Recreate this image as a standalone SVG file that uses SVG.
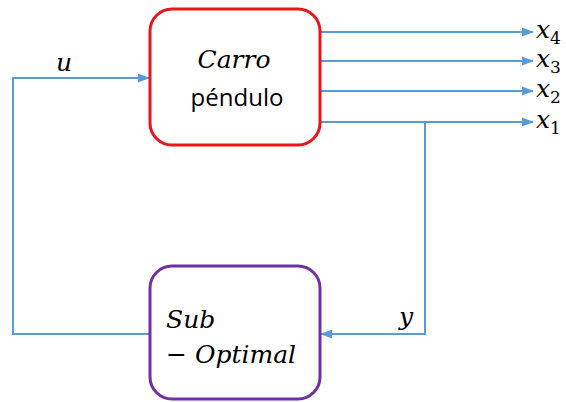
<svg xmlns="http://www.w3.org/2000/svg" width="566" height="402" viewBox="0 0 566 402">
<style>
.conn{fill:none;stroke:#5B9BD5;stroke-width:2}
.math{font-family:"DejaVu Serif","Liberation Serif",serif;font-style:italic;fill:#000}
.sub{font-family:"DejaVu Serif","Liberation Serif",serif;font-style:normal;fill:#000}
.txt{font-family:"Open Sans","Liberation Sans",sans-serif;fill:#000}
</style>
<defs>
<marker id="arr" markerWidth="12" markerHeight="10" refX="11" refY="5" orient="auto" markerUnits="userSpaceOnUse">
<path d="M0,0.5 L12,5 L0,9.5 Z" fill="#5B9BD5"/>
</marker>
</defs>
<rect width="566" height="402" fill="#fff"/>
<g id="connectors">
<path class="conn" d="M320,32 H533" marker-end="url(#arr)"/>
<path class="conn" d="M320,61 H533" marker-end="url(#arr)"/>
<path class="conn" d="M320,91 H533" marker-end="url(#arr)"/>
<path class="conn" d="M320,122 H533" marker-end="url(#arr)"/>
<path class="conn" d="M425,122 V334 H321" marker-end="url(#arr)"/>
<path class="conn" d="M150,334 H13 V78 H149" marker-end="url(#arr)"/>
</g>
<g id="carro">
<rect x="150" y="9" width="170" height="136" rx="22" fill="#fff" stroke="#E8151B" stroke-width="3"/>
<text class="math" x="234" y="68" font-size="25" text-anchor="middle">Carro</text>
<text class="txt" x="237" y="106" font-size="24" text-anchor="middle">péndulo</text>
</g>
<g id="suboptimal">
<rect x="150" y="266" width="170" height="133" rx="22" fill="#fff" stroke="#7030A0" stroke-width="3"/>
<text class="math" x="166" y="328" font-size="25">Sub</text>
<text class="math" x="166" y="363" font-size="25"><tspan font-style="normal">− </tspan>Optimal</text>
</g>
<g id="labels">
<text class="math" x="56" y="71" font-size="25">u</text>
<text class="math" x="399" y="325" font-size="25">y</text>
<text class="math" x="536" y="38" font-size="25">x<tspan class="sub" font-size="17" dy="6">4</tspan></text>
<text class="math" x="536" y="67" font-size="25">x<tspan class="sub" font-size="17" dy="6">3</tspan></text>
<text class="math" x="536" y="97" font-size="25">x<tspan class="sub" font-size="17" dy="6">2</tspan></text>
<text class="math" x="536" y="128" font-size="25">x<tspan class="sub" font-size="17" dy="6">1</tspan></text>
</g>
</svg>
